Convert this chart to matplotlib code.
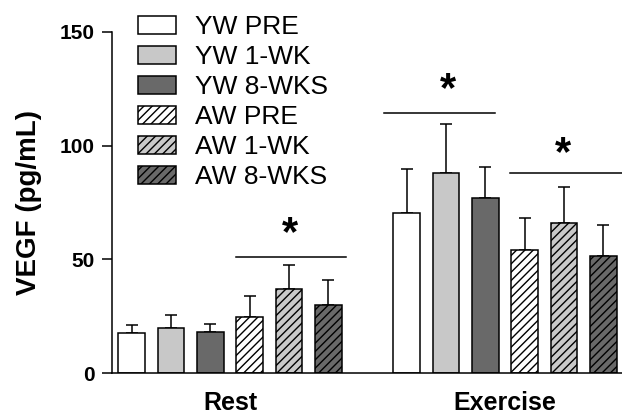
import numpy as np
import matplotlib.pyplot as plt

plt.rcParams['font.family'] = ['Liberation Sans', 'DejaVu Sans']
plt.rcParams['hatch.linewidth'] = 1.0

# group means and upper error (pg/mL)
groups = ['YW PRE', 'YW 1-WK', 'YW 8-WKS', 'AW PRE', 'AW 1-WK', 'AW 8-WKS']
conditions = ['Rest', 'Exercise']
rest_mean = [17.8, 19.9, 18.3, 24.6, 37.0, 29.8]
rest_err = [3.5, 5.5, 3.3, 9.3, 10.4, 11.1]
exercise_mean = [70.6, 87.8, 77.0, 54.2, 65.9, 51.4]
exercise_err = [18.9, 21.7, 13.6, 14.0, 15.8, 13.6]

colors = ['white', '#c8c8c8', '#696969', 'white', '#c8c8c8', '#696969']
hatches = ['', '', '', '////', '////', '////']

fig = plt.figure(figsize=(6.22, 4.20), dpi=100)
ax = fig.add_axes([111.7 / 622, 46.7 / 420, 1 - 111.7 / 622, 341.6 / 420])

width = 0.68
handles = []
for i in range(6):
    xs = [i, i + 7]
    means = [rest_mean[i], exercise_mean[i]]
    errs = [rest_err[i], exercise_err[i]]
    b = ax.bar(xs, means, width, color=colors[i], edgecolor='black', linewidth=1.1,
               hatch=hatches[i], label=groups[i], zorder=2)
    ax.errorbar(xs, means, yerr=[[0, 0], errs], fmt='none', ecolor='black',
                elinewidth=1.1, capsize=4.3, capthick=1.1, zorder=1)
    handles.append(b)

# significance bars
sig_lines = [(2.66, 5.45, 50.9), (6.43, 9.24, 114.5), (9.63, 12.5, 88.0)]
stars = [(4.03, 61.1), (8.04, 124.3), (10.97, 96.2)]
for x0, x1, y in sig_lines:
    ax.plot([x0, x1], [y, y], color='black', lw=1.1, clip_on=False)
for x, y in stars:
    ax.text(x, y, '*', ha='center', va='center', fontsize=30, fontweight='bold')

ax.set_xlim(-0.51, 12.48)
ax.set_ylim(0, 150)
ax.set_yticks([0, 50, 100, 150])
ax.set_xticks([2.5, 9.5])
ax.set_xticklabels(conditions, fontsize=18, fontweight='bold')
ax.tick_params(axis='x', length=0, pad=13)
ax.tick_params(axis='y', length=7, width=1.1, pad=5, labelsize=15)
for lab in ax.get_yticklabels():
    lab.set_fontweight('bold')
for s in ['top', 'right']:
    ax.spines[s].set_visible(False)
for s in ['left', 'bottom']:
    ax.spines[s].set_linewidth(1.1)

ax.set_ylabel('VEGF (pg/mL)', fontsize=20, fontweight='bold')
ax.yaxis.set_label_coords(-0.137, 0.5)

fig.legend(handles=handles, loc='upper left', bbox_to_anchor=(138 / 622, 1 - 15 / 420),
           frameon=False, fontsize=19, borderpad=0, borderaxespad=0,
           handlelength=1.45, handleheight=0.7, handletextpad=0.7, labelspacing=0.23)

fig.savefig('out.png', dpi=100)
